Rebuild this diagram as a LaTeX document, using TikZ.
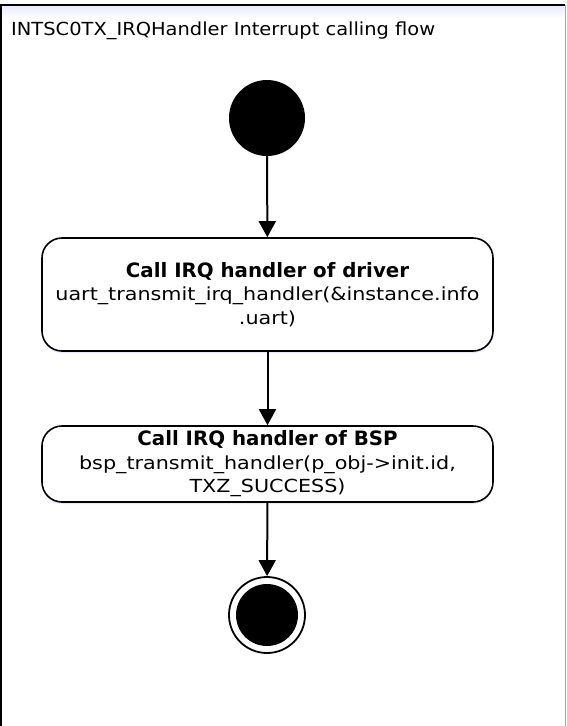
\documentclass[tikz,border=0pt]{standalone}
\usepackage{fontspec}
\setmainfont{DejaVu Sans}
\newfontfamily\titlefont[FakeStretch=1.08]{DejaVu Sans}
\newfontfamily\codefont[FakeStretch=1.15]{DejaVu Sans}
\newcommand\boxhead[1]{{\rmfamily\fontsize{19.8}{23.5}\selectfont\bfseries #1}}
\usetikzlibrary{arrows.meta,shadows}
\begin{document}
\begin{tikzpicture}[x=1pt,y=-1pt,
  flow/.style={line width=2pt,-{Triangle[length=16pt,width=17pt]}},
  actionbox/.style={draw,line width=1.6pt,rounded corners=20pt,fill=white,
    minimum width=451pt,align=center,font=\codefont\fontsize{18}{23.5}\selectfont,
    drop shadow={fill=blue!25,opacity=0.35,shadow xshift=0pt,shadow yshift=-2pt}},
  startdot/.style={circle,fill=black,minimum size=76pt,inner sep=0pt},
  enddot/.style={circle,draw,line width=1.8pt,fill=white,minimum size=76pt,inner sep=0pt}]
\useasboundingbox (0,0) rectangle (566,726);
% frame of the diagram
\shade[top color=blue!8,bottom color=white] (2,6) rectangle (565,18);
\draw[line width=2pt] (1,726) -- (1,5) -- (565,5);
\draw[gray!70,line width=1pt] (565,5) -- (565,726);
\node[anchor=base west,inner sep=0pt,font=\titlefont\fontsize{18}{20}\selectfont] (title) at (11,35)
  {INTSC0TX\_IRQHandler Interrupt calling flow};
% states
\node[startdot] (start) at (267,118) {};
\node[actionbox,minimum height=113pt] (drv) at (267.5,294.5)
  {\boxhead{Call IRQ handler of driver}\\uart\_transmit\_irq\_handler(\&instance.info\\.uart)};
\node[actionbox,minimum height=76pt] (bsp) at (267.5,464)
  {\boxhead{Call IRQ handler of BSP}\\bsp\_transmit\_handler(p\_obj->init.id,\\TXZ\_SUCCESS)};
\node[enddot] (stop) at (267,615) {};
\fill (stop.center) circle (31pt);
% transitions
\draw[flow] (start) -- (drv);
\draw[flow] (drv) -- (bsp);
\draw[flow] (bsp) -- (stop);
\end{tikzpicture}
\end{document}
